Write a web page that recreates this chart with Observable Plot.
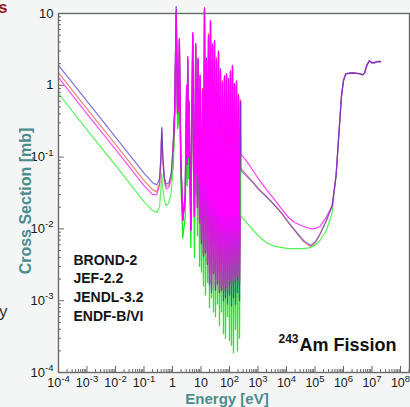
<!DOCTYPE html>
<html><head><meta charset="utf-8">
<script src="https://cdn.jsdelivr.net/npm/d3@7"></script>
<script src="https://cdn.jsdelivr.net/npm/@observablehq/plot@0.6"></script>
<style>
html,body{margin:0;padding:0;background:#f4f5f5;}
#chart{width:410px;height:407px;overflow:hidden;}
svg{display:block;}
</style></head><body><div id="chart"></div>
<script>
// ---------- data ----------
const libraries = ["BROND-2", "JEF-2.2", "JENDL-3.2", "ENDF-B/VI"];
const chartTitleMass = "243";
const chartTitle = "Am Fission";
const xTitle = "Energy [eV]";
const yTitle = "Cross Section [mb]";
const xTickValues = [1e-4, 1e-3, 1e-2, 1e-1, 1, 10, 1e2, 1e3, 1e4, 1e5, 1e6, 1e7, 1e8];
const yTickValues = [1e-4, 1e-3, 1e-2, 1e-1, 1, 10];

// thermal + sparse resonances (eV)
const energyLow = [1e-4, 1e-3, 1e-2, 0.1, 0.2, 0.28, 0.35, 0.39, 0.42, 0.46, 0.52, 0.6, 0.75, 0.9, 1.05, 1.2, 1.35, 1.5, 1.62, 1.74, 1.95, 2.3, 2.8, 3.13, 3.27, 3.42, 3.62, 3.84, 4.4, 5.13, 5.9, 6.54, 6.8, 7.06, 7.5, 7.86, 8.1, 8.36, 8.9, 9.31];
const brondLow = [1.9, 0.60, 0.19, 0.060, 0.044, 0.041, 0.05, 0.10, 0.26, 0.10, 0.052, 0.042, 0.044, 0.06, 0.14, 0.5, 12.5, 0.45, 0.5, 4.2, 0.1, 0.014, 0.03, 0.9, 0.08, 2.3, 0.1, 0.55, 0.01, 5.0, 0.016, 3.5, 0.06, 1.1, 0.02, 2.2, 0.05, 0.75, 0.013, 1.3];
const jefLow = [1.5, 0.47, 0.15, 0.047, 0.035, 0.033, 0.043, 0.09, 0.22, 0.09, 0.048, 0.039, 0.041, 0.055, 0.13, 0.45, 10.5, 0.42, 0.48, 4.3, 0.1, 0.013, 0.03, 0.95, 0.08, 2.4, 0.1, 0.58, 0.0098, 5.2, 0.015, 3.7, 0.06, 1.15, 0.02, 2.3, 0.05, 0.78, 0.012, 1.35];
const jendlLow = [1.28, 0.40, 0.128, 0.040, 0.030, 0.030, 0.040, 0.085, 0.25, 0.085, 0.045, 0.036, 0.038, 0.05, 0.12, 0.45, 11, 0.4, 0.5, 4.5, 0.1, 0.013, 0.03, 1.0, 0.08, 2.5, 0.1, 0.6, 0.0095, 5.4, 0.015, 3.8, 0.06, 1.2, 0.02, 2.4, 0.05, 0.8, 0.012, 1.4];
const endfLow = [0.77, 0.24, 0.077, 0.024, 0.018, 0.017, 0.02, 0.035, 0.06, 0.035, 0.025, 0.021, 0.023, 0.032, 0.07, 0.3, 7, 0.25, 0.3, 3.0, 0.05, 0.0075, 0.015, 0.6, 0.04, 1.6, 0.05, 0.35, 0.0055, 3.5, 0.004, 2.5, 0.03, 0.7, 0.008, 1.5, 0.025, 0.5, 0.003, 0.9];

// dense resolved resonances (eV), alternating valley / peak
const energyDense = [10.4, 11.29, 12.24, 13.27, 14.38, 15.6, 16.91, 18.33, 19.87, 21.54, 23.36, 25.32, 27.46, 29.77, 32.27, 34.99, 37.93, 41.12, 44.58, 48.33, 52.4, 56.81, 61.59, 66.77, 72.38, 78.47, 85.07, 92.23, 100, 108.4, 117.5, 127.4, 138.1, 149.7, 162.3, 176, 190.8, 206.9, 224.3, 243.2];
const brondDense = [0.0062, 0.8, 0.0042, 11, 0.0046, 2.4, 0.0032, 4.5, 0.0017, 7.5, 0.0013, 3.8, 0.0024, 3.9, 0.0014, 2.0, 0.0017, 2.8, 0.0013, 1.7, 0.0014, 1.05, 0.001, 1.3, 0.0011, 1.4, 0.0009, 1.25, 0.0012, 1.5, 0.00085, 1.8, 0.0011, 1.05, 0.0009, 1.1, 0.0013, 0.7, 0.001, 0.58];
const jefDense = [0.0065, 0.9, 0.0042, 11.5, 0.0048, 2.3, 0.0033, 5.2, 0.0025, 7.8, 0.0016, 3.5, 0.0024, 4.0, 0.0015, 2.4, 0.0018, 2.9, 0.0013, 1.5, 0.0015, 1.15, 0.0013, 1.3, 0.0015, 1.4, 0.0013, 1.25, 0.0018, 1.55, 0.0015, 1.85, 0.0018, 1.05, 0.0019, 1.1, 0.002, 0.75, 0.0018, 0.62];
const jendlDense = [0.007, 0.85, 0.0045, 12, 0.005, 2.2, 0.0035, 4.9, 0.0018, 8, 0.0014, 3.6, 0.0026, 4.2, 0.0016, 2.2, 0.0019, 3.0, 0.0014, 1.6, 0.0016, 1.1, 0.0014, 1.35, 0.0016, 1.45, 0.0014, 1.2, 0.0019, 1.6, 0.0016, 1.9, 0.0019, 1.0, 0.002, 1.15, 0.0022, 0.72, 0.0019, 0.6];
const endfDense = [0.0025, 0.5, 0.0016, 7, 0.0012, 1.3, 0.0018, 3.0, 0.0008, 5, 0.0011, 2.2, 0.0007, 2.5, 0.0006, 1.3, 0.0009, 1.8, 0.00045, 1.0, 0.0007, 0.7, 0.00035, 0.8, 0.0003, 0.9, 0.0006, 0.75, 0.00028, 0.95, 0.00024, 1.1, 0.00019, 0.6, 0.0004, 0.7, 0.0002, 0.45, 0.0003, 0.38];

// unresolved + fast region (eV)
const energyFast = [250, 400, 700, 1000, 2000, 4000, 7000, 1.2e4, 2e4, 4e4, 7e4, 1e5, 1.5e5, 2.5e5, 4e5, 5.5e5, 7e5, 8.5e5, 1e6, 1.2e6, 2e6, 3.5e6, 4.7e6, 5.5e6, 6.5e6, 8e6, 1e7, 1.2e7, 1.5e7, 2e7];
const brondFast = [0.065, 0.054, 0.043, 0.036, 0.028, 0.021, 0.0164, 0.0122, 0.0095, 0.0069, 0.0059, 0.0065, 0.0085, 0.013, 0.021, 0.055, 0.23, 0.7, 1.15, 1.44, 1.48, 1.45, 1.4, 1.48, 1.85, 2.18, 2.05, 2.05, 2.12, 2.12];
const jefFast = [0.07, 0.056, 0.044, 0.037, 0.028, 0.021, 0.016, 0.012, 0.0093, 0.0066, 0.0057, 0.0063, 0.0084, 0.013, 0.021, 0.055, 0.23, 0.7, 1.15, 1.44, 1.48, 1.45, 1.4, 1.48, 1.85, 2.18, 2.05, 2.05, 2.12, 2.12];
const jendlFast = [0.11, 0.088, 0.063, 0.051, 0.035, 0.025, 0.0186, 0.0143, 0.0122, 0.0108, 0.0101, 0.0101, 0.0108, 0.0146, 0.021, 0.056, 0.235, 0.72, 1.17, 1.46, 1.5, 1.46, 1.41, 1.5, 1.9, 2.2, 2.07, 2.07, 2.15, 2.15];
const endfFast = [0.015, 0.0122, 0.0095, 0.0081, 0.0064, 0.0057, 0.0055, 0.0053, 0.0053, 0.0053, 0.0055, 0.0059, 0.0069, 0.0095, 0.0168, 0.056, 0.235, 0.72, 1.17, 1.46, 1.5, 1.46, 1.41, 1.5, 1.9, 2.2, 2.07, 2.07, 2.15, 2.15];

// ---------- build table ----------
const seriesParts = {
  "BROND-2": [brondLow, brondDense, brondFast],
  "JEF-2.2": [jefLow, jefDense, jefFast],
  "JENDL-3.2": [jendlLow, jendlDense, jendlFast],
  "ENDF-B/VI": [endfLow, endfDense, endfFast]
};
const energyParts = [energyLow, energyDense, energyFast];
const rows = [];
for (const lib of libraries) {
  seriesParts[lib].forEach((vals, p) => vals.forEach((v, i) => rows.push({lib, E: energyParts[p][i], v})));
}

// ---------- styles ----------
const color = {"BROND-2": "#3c3cd2", "JEF-2.2": "#e8503c", "JENDL-3.2": "#ff00ff", "ENDF-B/VI": "#1eec1e"};
const teal = "#4b8d8d";
const axisGray = "#6a6a6a";
const font = "'Liberation Sans', Arial, Helvetica, sans-serif";

const seg = (lib, lo, hi) => rows.filter(d => d.lib === lib && d.E >= lo && d.E <= hi);
const lineMarks = [];
// thermal part
for (const lib of ["ENDF-B/VI", "JENDL-3.2", "JEF-2.2", "BROND-2"])
  lineMarks.push(Plot.line(seg(lib, 0, 1.05), {x: "E", y: "v", stroke: color[lib], strokeWidth: 1.2, strokeOpacity: 0.7}));
// resonance forest
for (const lib of ["ENDF-B/VI", "JEF-2.2", "BROND-2", "JENDL-3.2"])
  lineMarks.push(Plot.line(seg(lib, 1.05, 243.5), {x: "E", y: "v", stroke: color[lib], strokeWidth: 1.3, strokeOpacity: lib === "BROND-2" ? 0.8 : 1}));
// fast part
for (const lib of ["ENDF-B/VI", "JEF-2.2", "JENDL-3.2", "BROND-2"])
  lineMarks.push(Plot.line(seg(lib, 243, 1e9), {x: "E", y: "v", stroke: color[lib], strokeWidth: 1.2, strokeOpacity: lib === "BROND-2" ? 0.6 : 0.75}));

const xMinor = [], yMinor = [];
for (let k = -4; k <= 8; k++) for (let m = 2; m <= 9; m++) { const t = m * 10 ** k; if (t <= 2.07e8) xMinor.push(t); }
for (let k = -4; k <= 0; k++) for (let m = 2; m <= 9; m++) yMinor.push(m * 10 ** k);

const fmt = d => { const k = Math.round(Math.log10(d)); return k === 0 ? "1" : k === 1 ? "10" : "10^" + k; };
const blank = () => "";

const chart = Plot.plot({
  width: 410, height: 407,
  marginLeft: 58, marginRight: 1, marginTop: 13, marginBottom: 35,
  style: {background: "#f4f5f5", fontFamily: font, overflow: "visible"},
  x: {type: "log", domain: [1e-4, 2.07e8], label: null},
  y: {type: "log", domain: [1e-4, 10], label: null},
  marks: [
    Plot.frame({fill: "white", stroke: "none"}),
    ...lineMarks,
    Plot.axisX({ticks: xMinor, tickSize: -3, tickFormat: blank, stroke: axisGray, label: null}),
    Plot.axisX({ticks: xTickValues, tickSize: -6, tickFormat: blank, stroke: axisGray, label: null}),
    Plot.axisX({ticks: xTickValues, tickSize: 0, tickPadding: 6, tickFormat: fmt, fontSize: 12.5, fill: "#1a1a1a", label: null}),
    Plot.axisY({ticks: yMinor, tickSize: -3, tickFormat: blank, stroke: axisGray, label: null}),
    Plot.axisY({ticks: yTickValues, tickSize: -6, tickFormat: blank, stroke: axisGray, label: null}),
    Plot.axisY({ticks: yTickValues, tickSize: 0, tickPadding: 5, tickFormat: fmt, fontSize: 13, fill: "#1a1a1a", label: null}),
    Plot.frame({stroke: axisGray, strokeWidth: 1.4}),
    Plot.text([yTitle], {text: d => d, frameAnchor: "left", textAnchor: "middle", lineAnchor: "middle", rotate: -90, dx: -33, dy: 8, fontSize: 16, fontWeight: "bold", fill: teal}),
    Plot.text([xTitle], {text: d => d, frameAnchor: "bottom", textAnchor: "middle", lineAnchor: "middle", dx: -7, dy: 26.8, fontSize: 15, fontWeight: "bold", fill: teal}),
    Plot.text([libraries.join("\n")], {text: d => d, frameAnchor: "top-left", textAnchor: "start", lineAnchor: "top", lineHeight: 1.33, dx: 15, dy: 238, fontSize: 14, fontWeight: "bold", fill: "#151515"}),
    Plot.text([chartTitle], {text: d => d, frameAnchor: "bottom-left", textAnchor: "start", lineAnchor: "middle", dx: 241, dy: -27, fontSize: 18, fontWeight: "bold", fill: "#111"}),
    Plot.text([chartTitleMass], {text: d => d, frameAnchor: "bottom-left", textAnchor: "end", lineAnchor: "middle", dx: 240, dy: -33, fontSize: 12, fontWeight: "bold", fill: "#111"}),
    Plot.text(["s"], {text: d => d, frameAnchor: "top-left", textAnchor: "end", lineAnchor: "middle", dx: -51, dy: -6, fontSize: 16, fontWeight: "bold", fill: "#8e1c1c"}),
    Plot.text(["y"], {text: d => d, frameAnchor: "top-left", textAnchor: "end", lineAnchor: "middle", dx: -51, dy: 298, fontSize: 17, fill: "#333"})
  ]
});

// superscript exponents in tick labels
const NS = "http://www.w3.org/2000/svg";
chart.querySelectorAll("text").forEach(t => {
  const s = t.textContent;
  const m = /^10\^(-?\d+)$/.exec(s);
  if (!m) return;
  t.textContent = "";
  const base = document.createElementNS(NS, "tspan");
  base.textContent = "10";
  const sup = document.createElementNS(NS, "tspan");
  sup.textContent = m[1];
  sup.setAttribute("font-size", "9.5");
  sup.setAttribute("dy", "-0.6em");
  t.append(base, sup);
});
document.getElementById("chart").append(chart);
</script>
</body></html>
